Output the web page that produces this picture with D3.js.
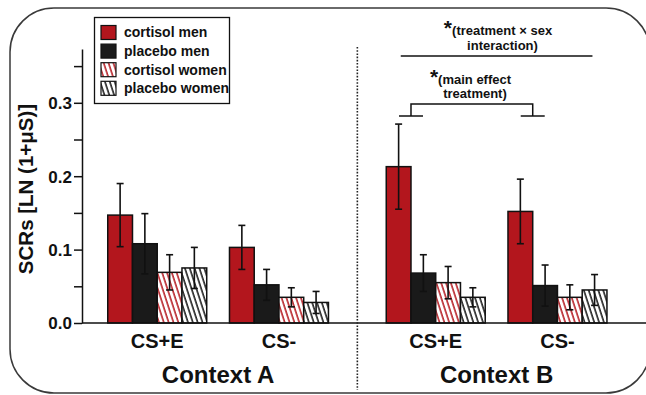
<!DOCTYPE html>
<html>
<head>
<meta charset="utf-8">
<script src="https://cdn.jsdelivr.net/npm/d3@7"></script>
<style>
  html, body { margin: 0; padding: 0; background: #fff; }
  svg { display: block; }
  text { font-family: "Liberation Sans", Arial, Helvetica, sans-serif; font-weight: bold; fill: #111; }
</style>
</head>
<body>
<svg id="chart" width="646" height="395"></svg>
<script>
// ---------- data ----------
const contexts = ["Context A", "Context B"];
const conditions = ["CS+E", "CS-"];
const series = ["cortisol men", "placebo men", "cortisol women", "placebo women"];
// values per group in order: A CS+E, A CS-, B CS+E, B CS-
const cortisolMen      = [0.147, 0.103, 0.213, 0.152];
const cortisolMenSem   = [0.043, 0.030, 0.058, 0.044];
const placeboMen       = [0.108, 0.052, 0.068, 0.051];
const placeboMenSem    = [0.041, 0.021, 0.025, 0.028];
const cortisolWomen    = [0.069, 0.035, 0.055, 0.035];
const cortisolWomenSem = [0.024, 0.013, 0.022, 0.017];
const placeboWomen     = [0.075, 0.028, 0.035, 0.045];
const placeboWomenSem  = [0.028, 0.015, 0.013, 0.021];
const majorTicks = [0, 0.1, 0.2, 0.3];
const minorTicks = [0.05, 0.15, 0.25, 0.35];
const yTitle = "SCRs [LN (1+\u03BCS)]";

const means = [cortisolMen, placeboMen, cortisolWomen, placeboWomen];
const sems = [cortisolMenSem, placeboMenSem, cortisolWomenSem, placeboWomenSem];

// ---------- layout ----------
const svg = d3.select("#chart");
const RED = "#b3161d", BLACK = "#1a1a1a";
const fills = ["solid-red", "solid-black", "hatch-red", "hatch-black"];

const x0 = d3.scaleBand().domain(contexts).range([78.85, 635.85]);
const x1 = d3.scaleBand().domain(conditions).range([28.9, 249.6]).paddingInner(0.187);
const x2 = d3.scaleBand().domain(series).range([0, x1.bandwidth()]);
const y = d3.scaleLinear().domain([0, 0.3733]).range([323, 49]);
const axisX = 82;

// patterns
const defs = svg.append("defs");
[["hatch-red", RED], ["hatch-black", "#111"]].forEach(([id, col]) => {
  const p = defs.append("pattern").attr("id", id)
    .attr("patternUnits", "userSpaceOnUse").attr("width", 4.6).attr("height", 10)
    .attr("patternTransform", "rotate(-18)");
  p.append("rect").attr("width", 4.6).attr("height", 10).attr("fill", "#fff");
  p.append("line").attr("x1", 1).attr("x2", 1).attr("y1", -1).attr("y2", 11)
    .attr("stroke", col).attr("stroke-width", 1.5);
});
function fillOf(i) {
  if (i === 0) return RED;
  if (i === 1) return BLACK;
  return `url(#${fills[i]})`;
}

// frame
svg.append("rect").attr("x", 10).attr("y", 8).attr("width", 640).attr("height", 385)
  .attr("rx", 44).attr("ry", 44).attr("fill", "none").attr("stroke", "#3a3a3a").attr("stroke-width", 1.5);

// groups data
const groups = [];
contexts.forEach((c, ci) => conditions.forEach((k, ki) => groups.push({ c, k, gi: ci * 2 + ki })));

// bars
const barsG = svg.append("g");
groups.forEach(g => {
  const gx = x0(g.c) + x1(g.k);
  series.forEach((s, si) => {
    const v = means[si][g.gi];
    barsG.append("rect")
      .attr("x", gx + x2(s)).attr("y", y(v))
      .attr("width", x2.bandwidth()).attr("height", y(0) - y(v))
      .attr("fill", fillOf(si)).attr("stroke", "#111").attr("stroke-width", 1.5);
  });
});
// error bars
groups.forEach(g => {
  const gx = x0(g.c) + x1(g.k);
  series.forEach((s, si) => {
    const v = means[si][g.gi], e = sems[si][g.gi];
    const cx = gx + x2(s) + x2.bandwidth() / 2;
    const eb = barsG.append("g").attr("stroke", "#111").attr("stroke-width", 1.6);
    eb.append("line").attr("x1", cx).attr("x2", cx).attr("y1", y(v + e)).attr("y2", y(v - e));
    eb.append("line").attr("x1", cx - 3.5).attr("x2", cx + 3.5).attr("y1", y(v + e)).attr("y2", y(v + e));
    eb.append("line").attr("x1", cx - 3.5).attr("x2", cx + 3.5).attr("y1", y(v - e)).attr("y2", y(v - e));
  });
});

// y axis
const yAxis = d3.axisLeft(y).tickValues(majorTicks).tickFormat(d3.format(".1f")).tickSize(8).tickPadding(2).tickSizeOuter(0);
const ya = svg.append("g").attr("transform", `translate(${axisX},0)`).call(yAxis);
ya.selectAll("text").style("font-size", "17px").attr("fill", "#111").attr("dy", "0.35em");
ya.selectAll("line, path").attr("stroke", "#111").attr("stroke-width", 1.5);
const yMinor = d3.axisLeft(y).tickValues(minorTicks).tickFormat("").tickSize(8).tickSizeOuter(0);
const ym = svg.append("g").attr("transform", `translate(${axisX},0)`).call(yMinor);
ym.select("path").remove();
ym.selectAll("line").attr("stroke", "#111").attr("stroke-width", 1.5);

// x baseline
svg.append("line").attr("x1", axisX).attr("x2", 646).attr("y1", y(0)).attr("y2", y(0))
  .attr("stroke", "#111").attr("stroke-width", 1.5);

// y title
svg.append("text").attr("transform", `translate(33,189) rotate(-90)`)
  .attr("text-anchor", "middle").style("font-size", "20.5px").text(yTitle);

// category labels
groups.forEach(g => {
  svg.append("text").attr("x", x0(g.c) + x1(g.k) + x1.bandwidth() / 2).attr("y", 348)
    .attr("text-anchor", "middle").style("font-size", "20px").text(g.k);
});
contexts.forEach(c => {
  svg.append("text").attr("x", x0(c) + x0.bandwidth() / 2).attr("y", 383)
    .attr("text-anchor", "middle").style("font-size", "24px").text(c);
});

// divider
svg.append("line").attr("x1", x0("Context B")).attr("x2", x0("Context B"))
  .attr("y1", 47).attr("y2", 390).attr("stroke", "#222").attr("stroke-width", 1.6)
  .attr("stroke-dasharray", "1.6,1.6");

// legend
const lg = svg.append("g");
lg.append("rect").attr("x", 94.5).attr("y", 17.5).attr("width", 135).attr("height", 86)
  .attr("fill", "#fff").attr("stroke", "#111").attr("stroke-width", 1.3);
series.forEach((s, i) => {
  const cy = 32.5 + i * 18.6;
  lg.append("rect").attr("x", 101).attr("y", cy - 7).attr("width", 15).attr("height", 14)
    .attr("fill", fillOf(i)).attr("stroke", "#111").attr("stroke-width", 1.2);
  lg.append("text").attr("x", 124).attr("y", cy).attr("dy", "0.35em")
    .style("font-size", "14px").text(s);
});

// annotations
const bCSE = x0("Context B") + x1("CS+E");
const bCSm = x0("Context B") + x1("CS-");
const bx1 = bCSE + x2("placebo men");
const bx2 = bCSm + x2("placebo men");
const br = svg.append("g").attr("stroke", "#111").attr("stroke-width", 1.5).attr("fill", "none");
br.append("path").attr("d", `M${bx1},116 V104 H${bx2} V116`);
br.append("line").attr("x1", bx1 - 12).attr("x2", bx1 + 12).attr("y1", 116).attr("y2", 116);
br.append("line").attr("x1", bx2 - 12).attr("x2", bx2 + 12).attr("y1", 116).attr("y2", 116);
br.append("line").attr("x1", bCSE + 14.5).attr("x2", bCSm + x1.bandwidth() - 14.5).attr("y1", 56).attr("y2", 56);

const t1 = svg.append("text").attr("x", 498).attr("y", 35).attr("text-anchor", "middle").style("font-size", "13px");
t1.append("tspan").style("font-size", "21px").attr("dy", -0.5).text("*");
t1.append("tspan").attr("dy", 0.5).text("(treatment \u00D7 sex");
svg.append("text").attr("x", 502.5).attr("y", 49.5).attr("text-anchor", "middle").style("font-size", "13px").text("interaction)");

const t2 = svg.append("text").attr("x", 470.5).attr("y", 84).attr("text-anchor", "middle").style("font-size", "13px");
t2.append("tspan").style("font-size", "21px").attr("dy", -0.5).text("*");
t2.append("tspan").attr("dy", 0.5).text("(main effect");
svg.append("text").attr("x", 475).attr("y", 98).attr("text-anchor", "middle").style("font-size", "13px").text("treatment)");
</script>
</body>
</html>
